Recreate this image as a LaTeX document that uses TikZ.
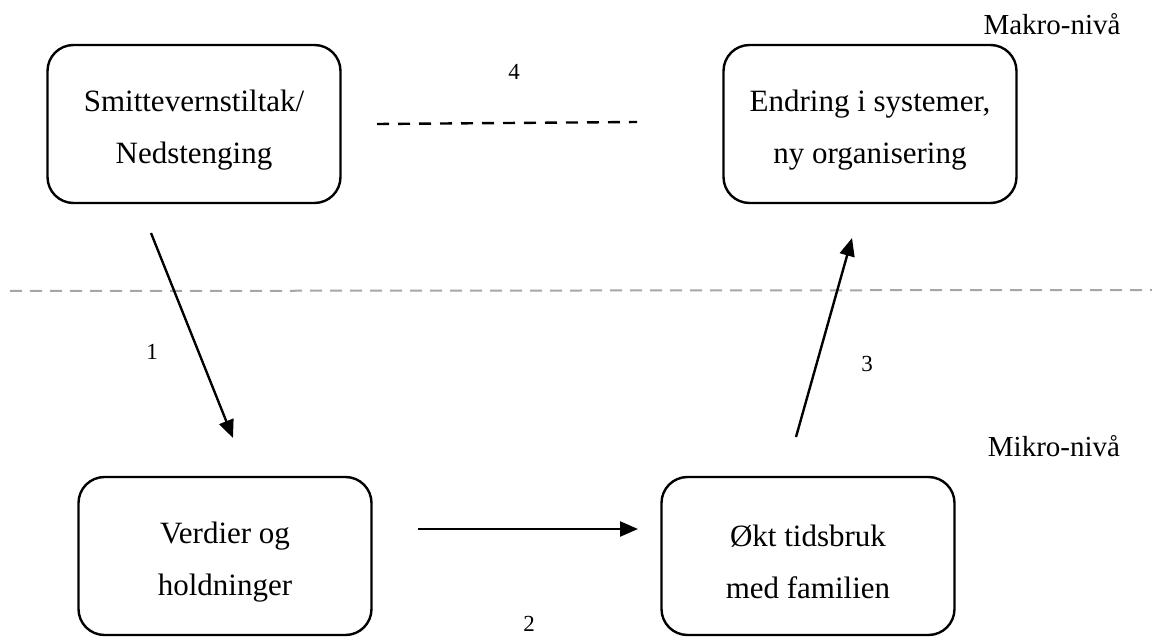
\documentclass[tikz,border=0pt]{standalone}
\usepackage{fontspec}
\setmainfont{Liberation Serif}
\usetikzlibrary{arrows.meta}
\newcommand{\lowr}{\rule{0pt}{34pt}}
\tikzset{
  box/.style={draw, line width=2.4pt, rounded corners=26pt, minimum width=293pt, minimum height=158pt, align=center, font=\fontsize{31}{52}\selectfont, inner sep=0pt},
  arr/.style={line width=2.4pt, -{Triangle[length=18pt,width=15pt]}},
  num/.style={font=\fontsize{23}{28}\selectfont, inner sep=0pt},
  lvl/.style={font=\fontsize{29}{34}\selectfont, inner sep=0pt},
  sep/.style={draw=black!35, line width=2pt, dash pattern=on 12pt off 8pt},
  link/.style={line width=2.4pt, dash pattern=on 12pt off 9pt}
}
\begin{document}
\begin{tikzpicture}[x=1pt,y=-1pt]
\useasboundingbox (0,0) rectangle (1152,639);
\node[box] (b1) at (194,124) {\lowr Smittevernstiltak/\\Nedstenging};
\node[box] (b2) at (870,124) {\lowr Endring i systemer,\\ny organisering};
\node[box] (b3) at (225,556) {\lowr Verdier og\\holdninger};
\node[box] (b4) at (808,556) {\lowr Økt tidsbruk\\med familien};
\coordinate (s0) at (10,291);
\coordinate (s1) at (1152,290);
\draw[sep] (s0) -- (s1);
\coordinate (a1s) at (151,233);
\coordinate (a1e) at (233,438);
\coordinate (a2s) at (418,529);
\coordinate (a2e) at (638,529);
\coordinate (a3s) at (796,437);
\coordinate (a3e) at (852,238);
\coordinate (d1) at (377,124);
\coordinate (d2) at (637,122);
\draw[arr] (a1s) -- (a1e);
\draw[arr] (a2s) -- (a2e);
\draw[arr] (a3s) -- (a3e);
\draw[link] (d1) -- (d2);
\node[num] (n4) at (514,72) {4};
\node[num] (n1) at (152,352) {1};
\node[num] (n3) at (867,364) {3};
\node[num] (n2) at (529,624) {2};
\node[lvl] (mak) at (1052,24) {Makro-nivå};
\node[lvl] (mik) at (1054,446) {Mikro-nivå};
\end{tikzpicture}
\end{document}
